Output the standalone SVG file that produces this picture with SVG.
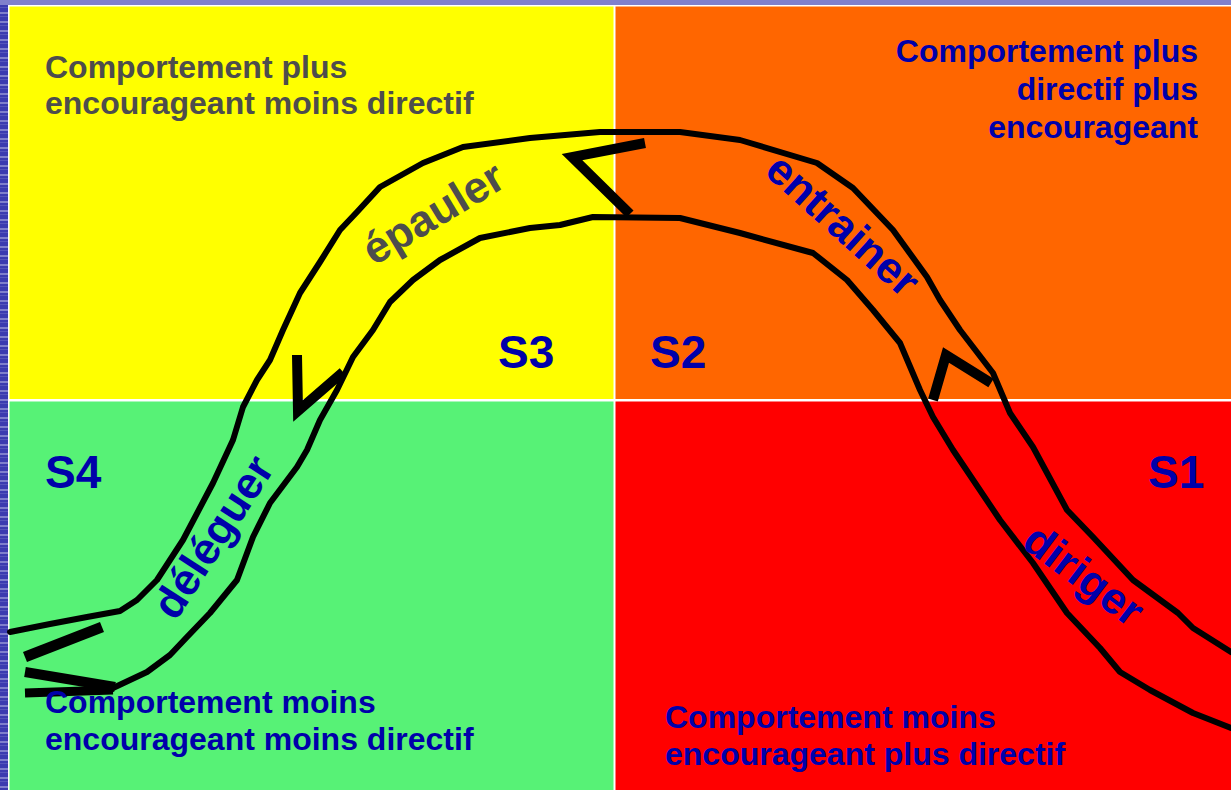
<svg xmlns="http://www.w3.org/2000/svg" width="1231" height="790" viewBox="0 0 1231 790">
<defs>
<pattern id="streaks" width="12" height="9" patternUnits="userSpaceOnUse">
<rect width="12" height="9" fill="#3b3bb0"/>
<rect y="3" width="12" height="2" fill="#7f7fcc"/>
<rect y="7" width="12" height="1" fill="#5555bb"/>
</pattern>
<style>
.desc{font-family:"Liberation Sans",Arial,sans-serif;font-weight:bold;font-size:32px;fill:#0000aa}
.gray{fill:#4d4d4d}
.sl{font-family:"Liberation Sans",Arial,sans-serif;font-weight:bold;font-size:46px;fill:#0000aa}
.rot{font-family:"Liberation Sans",Arial,sans-serif;font-weight:bold;font-size:44px;fill:#0000aa;text-anchor:middle}
.band{fill:none;stroke:#000;stroke-width:6;stroke-linejoin:round;stroke-linecap:round}
.chev{fill:none;stroke:#000;stroke-width:10;stroke-linejoin:miter;stroke-linecap:butt}
</style>
</defs>
<rect width="1231" height="790" fill="url(#streaks)"/>
<rect x="0" y="0" width="1231" height="5" fill="#8080cc"/>
<rect x="8" y="5" width="1223" height="785" fill="#ffffff"/>
<g id="q3">
<rect x="9.5" y="6.5" width="604" height="392.5" fill="#ffff00"/>
<text class="desc gray" x="45" y="78">Comportement plus</text>
<text class="desc gray" x="45" y="114">encourageant moins directif</text>
<text class="sl" x="498" y="368">S3</text>
</g>
<g id="q2">
<rect x="615.5" y="6.5" width="615.5" height="392.5" fill="#ff6600"/>
<text class="desc" x="1198" y="62" text-anchor="end">Comportement plus</text>
<text class="desc" x="1198" y="100" text-anchor="end">directif plus</text>
<text class="desc" x="1198" y="138" text-anchor="end">encourageant</text>
<text class="sl" x="650" y="368">S2</text>
</g>
<g id="q4">
<rect x="9.5" y="401.5" width="604" height="388.5" fill="#57f276"/>
<text class="sl" x="45" y="488">S4</text>
</g>
<g id="q1">
<rect x="615.5" y="401.5" width="615.5" height="388.5" fill="#ff0000"/>
<text class="desc" x="665" y="728">Comportement moins</text>
<text class="desc" x="665" y="765">encourageant plus directif</text>
<text class="sl" x="1148" y="488">S1</text>
</g>
<g id="connectors">
<polyline class="band" points="10,632 50,624 87,617 120,611 137,600 157,580 183,540 213,483 233,440 243,407 257,380 270,360 283,330 300,293 320,262 340,230 357,212 380,187 423,163 463,147 530,138 600,132 680,132 740,140 817,163 853,188 893,230 927,277 940,300 960,330 993,373 1010,413 1033,447 1067,510 1093,537 1133,580 1178,613 1193,628 1231,652"/>
<polyline class="band" points="113,688 147,672 170,655 187,637 210,613 237,580 253,537 270,503 297,467 307,450 320,420 337,390 353,357 373,330 390,302 413,280 440,260 480,238 530,228 560,225 593,217 680,218 740,233 813,253 847,280 873,310 900,343 920,390 933,417 953,450 1000,520 1033,563 1067,613 1100,648 1120,672 1150,690 1193,713 1231,728"/>
<polyline class="chev" points="645,143 572,157 630,214"/>
<polyline class="chev" points="297,355 298,411 343,372"/>
<polyline class="chev" points="933,400 946,355 991,383"/>
<line class="chev" x1="102" y1="627" x2="25" y2="657" style="stroke-width:11"/>
<line class="chev" x1="25" y1="672" x2="115" y2="687"/>
<line class="chev" x1="25" y1="693" x2="113" y2="690" style="stroke-width:9"/>
</g>
<g id="labels">
<text class="rot" style="fill:#4d4d4d" transform="translate(433,213) rotate(-31)" y="15">épauler</text>
<text class="rot" transform="translate(843,225) rotate(42)" y="15">entrainer</text>
<text class="rot" transform="translate(213,537) rotate(-57)" y="15">déléguer</text>
<text class="rot" transform="translate(1084,575) rotate(37)" y="15">diriger</text>
</g>
<g id="q4text">
<text class="desc" x="45" y="713">Comportement moins</text>
<text class="desc" x="45" y="750">encourageant moins directif</text>
</g>
</svg>
